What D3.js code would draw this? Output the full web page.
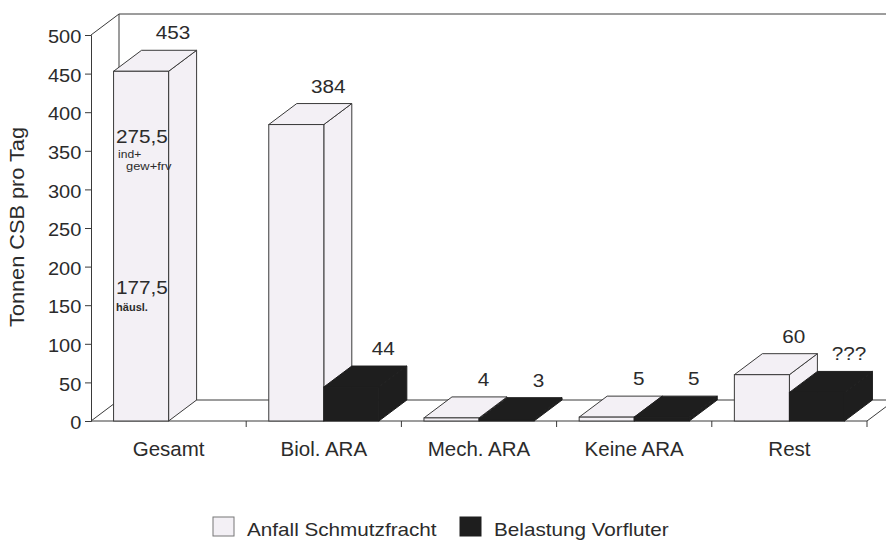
<!DOCTYPE html>
<html>
<head>
<meta charset="utf-8">
<script src="https://cdn.jsdelivr.net/npm/d3@7"></script>
<style>
  html, body { margin: 0; padding: 0; background: #ffffff; }
  svg { display: block; }
  text { font-family: "Liberation Sans", Arial, Helvetica, sans-serif; fill: #2b2b2b; }
</style>
</head>
<body>
<svg id="chart" width="886" height="541"></svg>
<script>
// ---- data ----
const categories = ["Gesamt", "Biol. ARA", "Mech. ARA", "Keine ARA", "Rest"];
const seriesNames = ["Anfall Schmutzfracht", "Belastung Vorfluter"];
const anfall = [453, 384, 4, 5, 60];
const belastung = [null, 44, 3, 5, 37];
const anfallLabels = ["453", "384", "4", "5", "60"];
const belastungLabels = ["", "44", "3", "5", "???"];
const yTicks = [0, 50, 100, 150, 200, 250, 300, 350, 400, 450, 500];
const yTitle = "Tonnen CSB pro Tag";
const gesamtParts = [
  { big: "275,5", small: ["ind+", "gew+frv"], at: 360 },
  { big: "177,5", small: ["häusl."], at: 165 }
];

// ---- layout ----
const W = 886, H = 541;
const svg = d3.select("#chart");
const DX = 28, DY = -21;
const fillLight = "#f3f0f5", fillDark = "#1e1e1e", stroke = "#3a3a3a";

const y = d3.scaleLinear().domain([0, 500]).range([421, 35]);
const x = d3.scaleBand().domain(categories).range([91, 867]).paddingInner(0).paddingOuter(0);
const xs = d3.scaleBand().domain(["a", "b"]).range([0, x.bandwidth()]).paddingInner(0).paddingOuter(0.41);
const y0 = y(0);
const xL = x.range()[0], xR = x.range()[1];

function txt(g, px, py, s, size, anchor, sx, weight) {
  return g.append("text")
    .attr("transform", `translate(${px},${py}) scale(${sx},1)`)
    .attr("text-anchor", anchor)
    .style("font-size", size + "px")
    .style("font-weight", weight || "normal")
    .text(s);
}

// floor
svg.append("polygon")
  .attr("points", [[xL, y0], [xR, y0], [xR + DX, y0 + DY], [xL + DX, y0 + DY]].map(p => p.join(",")).join(" "))
  .attr("fill", "#ffffff").attr("stroke", stroke).attr("stroke-width", 1);

// left wall edges & back wall edges
const yTopV = y(500);
svg.append("polyline")
  .attr("points", [[xL, yTopV], [xL + DX, yTopV + DY], [W + 20, yTopV + DY]].map(p => p.join(",")).join(" "))
  .attr("fill", "none").attr("stroke", stroke).attr("stroke-width", 1);
svg.append("line")
  .attr("x1", xL + DX).attr("x2", xL + DX).attr("y1", yTopV + DY).attr("y2", y0 + DY)
  .attr("stroke", stroke).attr("stroke-width", 1);

// y axis
const yAxis = svg.append("g").attr("transform", `translate(${xL},0)`)
  .call(d3.axisLeft(y).tickValues(yTicks).tickSize(6).tickPadding(3).tickFormat(d3.format("d")));
yAxis.select(".domain").attr("stroke", stroke);
yAxis.selectAll(".tick line").attr("stroke", stroke);
yAxis.selectAll(".tick text")
  .attr("fill", "#2b2b2b")
  .style("font-size", "18.5px")
  .style("font-family", "'Liberation Sans', Arial, sans-serif")
  .attr("dy", "0.42em")
  .attr("transform", "scale(1.08,1)");

// y title
svg.append("text")
  .attr("transform", `translate(24,227) rotate(-90) scale(1.06,1)`)
  .attr("text-anchor", "middle")
  .style("font-size", "20.5px")
  .text(yTitle);

// x axis (labels at centers)
const xAxis = svg.append("g").attr("transform", `translate(0,${y0})`)
  .call(d3.axisBottom(x).tickSize(0).tickPadding(20));
xAxis.select(".domain").remove();
xAxis.selectAll(".tick text")
  .attr("fill", "#2b2b2b")
  .style("font-size", "20.5px")
  .style("font-family", "'Liberation Sans', Arial, sans-serif");

// boundary ticks
svg.append("g").selectAll("line").data(categories).join("line")
  .attr("x1", d => x(d) + x.bandwidth()).attr("x2", d => x(d) + x.bandwidth())
  .attr("y1", y0).attr("y2", y0 + 6)
  .attr("stroke", stroke).attr("stroke-width", 1);

// 3D bar
function bar3d(g, x0, w, v, fill, edge) {
  const yt = y(v);
  const pts = a => a.map(p => p.join(",")).join(" ");
  g.append("polygon").attr("points", pts([[x0 + w, yt], [x0 + w + DX, yt + DY], [x0 + w + DX, y0 + DY], [x0 + w, y0]]))
    .attr("fill", fill).attr("stroke", edge).attr("stroke-width", 1).attr("stroke-linejoin", "round");
  g.append("polygon").attr("points", pts([[x0, yt], [x0 + w, yt], [x0 + w + DX, yt + DY], [x0 + DX, yt + DY]]))
    .attr("fill", fill).attr("stroke", edge).attr("stroke-width", 1).attr("stroke-linejoin", "round");
  g.append("rect").attr("x", x0).attr("y", yt).attr("width", w).attr("height", y0 - yt)
    .attr("fill", fill).attr("stroke", edge).attr("stroke-width", 1);
}

const bars = svg.append("g");
const labels = svg.append("g");
categories.forEach((c, i) => {
  const w = xs.bandwidth();
  const xa = x(c) + xs("a");
  const xb = x(c) + xs("b");
  bar3d(bars, xa, w, anfall[i], fillLight, stroke);
  txt(labels, xa + w / 2 + 32, y(anfall[i]) + DY - 11, anfallLabels[i], 18.5, "middle", 1.12);
  if (belastung[i] != null) {
    bar3d(bars, xb, w, belastung[i], fillDark, fillDark);
    txt(labels, xb + w / 2 + 32, y(belastung[i]) + DY - 11, belastungLabels[i], 18.5, "middle", 1.12);
  }
});

// Gesamt breakdown annotations
const gx = x(categories[0]) + xs("a") + 2.5;
gesamtParts.forEach(p => {
  const by = y(p.at);
  txt(labels, gx, by, p.big, 18.5, "start", 1.12);
  if (p.small.length === 2) {
    txt(labels, gx + 2, by + 15, p.small[0], 11, "start", 1.1);
    txt(labels, gx + 10, by + 27, p.small[1], 11.5, "start", 1.12);
  } else {
    txt(labels, gx, by + 17, p.small[0], 10.5, "start", 1.05, "bold");
  }
});

// legend
const legend = svg.append("g");
const legendX = [213, 460];
seriesNames.forEach((s, i) => {
  legend.append("rect").attr("x", legendX[i]).attr("y", 517).attr("width", 21).attr("height", 19)
    .attr("fill", i === 0 ? fillLight : fillDark)
    .attr("stroke", i === 0 ? "#777" : fillDark).attr("stroke-width", 1);
  txt(legend, legendX[i] + 34, 536, s, 18, "start", 1.15);
});
</script>
</body>
</html>
